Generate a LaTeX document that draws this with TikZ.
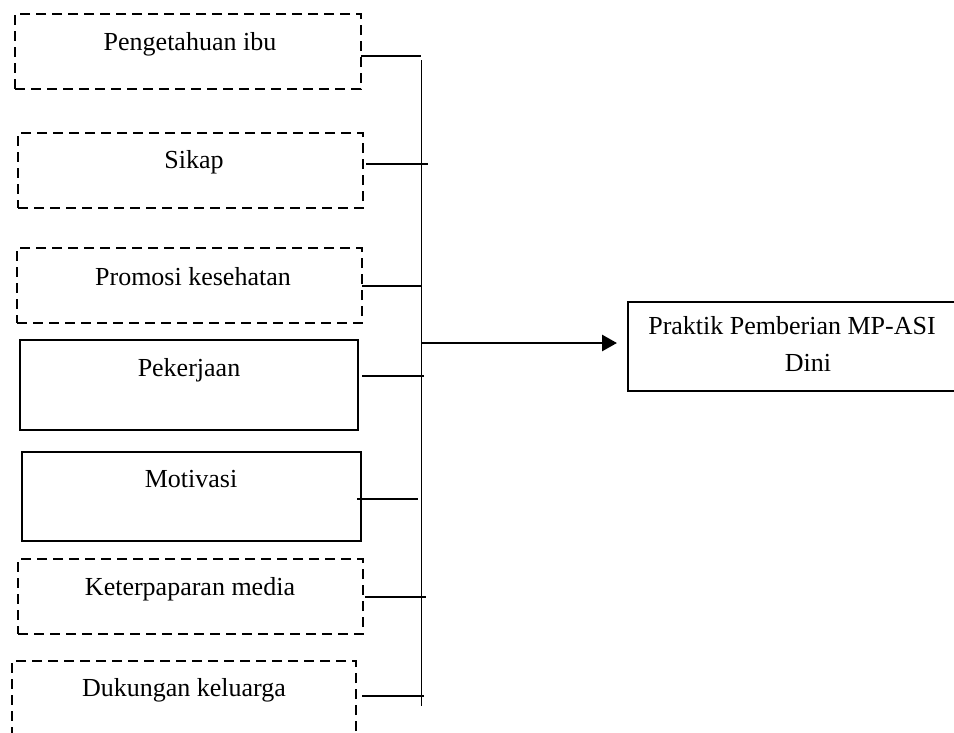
\documentclass[tikz,border=0pt]{standalone}
\usepackage{fontspec}
\setmainfont{Liberation Serif}
\usetikzlibrary{arrows.meta}
\begin{document}
\begin{tikzpicture}[x=1pt,y=-1pt,
  box/.style={draw, line width=2pt, inner sep=0pt, outer sep=0pt},
  dbox/.style={box, dash pattern=on 10pt off 6pt},
  lbl/.style={anchor=base, inner sep=0pt, font=\fontsize{26}{37}\selectfont},
  wire/.style={line width=1.8pt},
  mainarrow/.style={line width=2.8pt, -{Triangle[length=15pt, width=16pt]}}]
\useasboundingbox (0,0) rectangle (954,732);
\clip (0,0) rectangle (954,732);
% boxes
\node[dbox, minimum width=346pt, minimum height=75pt] (b1) at (188,51.5) {};
\node[dbox, minimum width=345pt, minimum height=75pt] (b2) at (190.5,170.5) {};
\node[dbox, minimum width=345pt, minimum height=75pt] (b3) at (189.5,285.5) {};
\node[box, minimum width=338pt, minimum height=90pt] (b4) at (189,385) {};
\node[box, minimum width=339pt, minimum height=89pt] (b5) at (191.5,496.5) {};
\node[dbox, minimum width=345pt, minimum height=75pt] (b6) at (190.5,596.5) {};
\node[dbox, minimum width=344pt, minimum height=110pt] (b7) at (184,716) {};
% labels
\node[lbl] (t1) at (190,50) {Pengetahuan ibu};
\node[lbl] (t2) at (194,168) {Sikap};
\node[lbl] (t3) at (193,285) {Promosi kesehatan};
\node[lbl] (t4) at (189,376) {Pekerjaan};
\node[lbl] (t5) at (191,487) {Motivasi};
\node[lbl] (t6) at (190,595) {Keterpaparan media};
\node[lbl] (t7) at (184,696) {Dukungan keluarga};
% target
\node[box, minimum width=362pt, minimum height=89pt] (tg) at (809,346.5) {};
\node[lbl] (tt1) at (792,334) {Praktik Pemberian MP-ASI};
\node[lbl] (tt2) at (808,371) {Dini};
% bus
\coordinate (bt) at (421.5,60);
\coordinate (bb) at (421.5,706);
\draw[wire] (bt) -- (bb);
% connectors
\coordinate (e1) at (421,56);
\coordinate (e2) at (428,164);
\coordinate (e3) at (421,286);
\coordinate (e4) at (424,376);
\coordinate (e5) at (418,499);
\coordinate (e6) at (426,597);
\coordinate (e7) at (424,696);
\draw[wire] (b1.east |- e1) -- (e1);
\draw[wire] ([xshift=3pt]b2.east |- e2) -- (e2);
\draw[wire] (b3.east |- e3) -- (e3);
\draw[wire] ([xshift=4pt]b4.east |- e4) -- (e4);
\draw[wire] ([xshift=-4pt]b5.east |- e5) -- (e5);
\draw[wire] ([xshift=2pt]b6.east |- e6) -- (e6);
\draw[wire] ([xshift=6pt]b7.east |- e7) -- (e7);
% main arrow
\coordinate (a0) at (422,343);
\coordinate (a1) at (617,343);
\draw[mainarrow] (a0) -- (a1);
\end{tikzpicture}
\end{document}
